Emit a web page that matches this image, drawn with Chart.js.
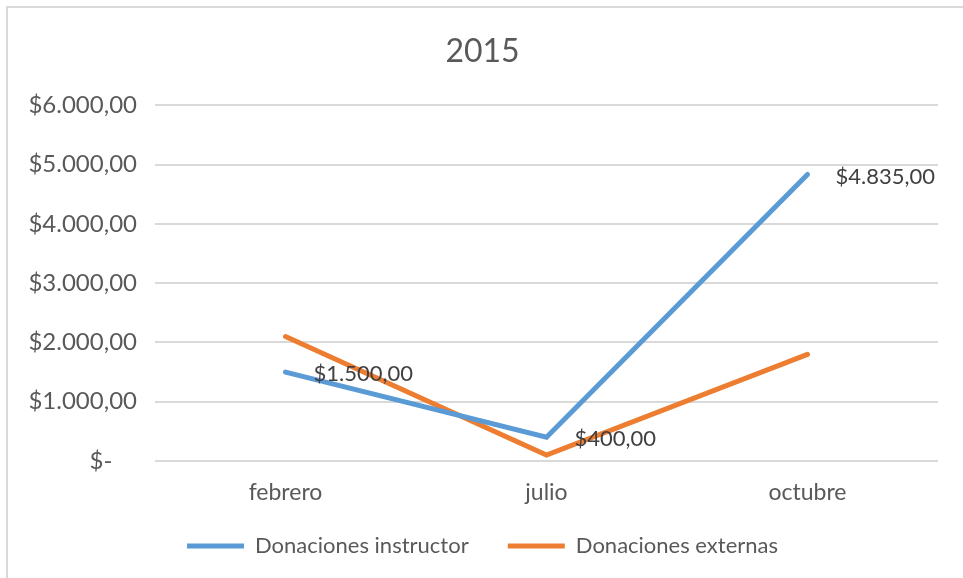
<!DOCTYPE html>
<html>
<head>
<meta charset="utf-8">
<script src="https://cdn.jsdelivr.net/npm/chart.js@4"></script>
<style>
  html, body { margin: 0; padding: 0; background: #fff; }
  #wrap { position: relative; width: 963px; height: 578px; }
  #frame { position: absolute; left: 6px; top: 6px; right: 0; bottom: 0;
           border-top: 2px solid #d9d9d9; border-left: 2px solid #d9d9d9; pointer-events: none; }
</style>
</head>
<body>
<div id="wrap">
  <canvas id="lineChart" width="963" height="578"></canvas>
  <div id="frame"></div>
</div>
<script>
// Chart data
const months = ['febrero', 'julio', 'octubre'];
const instructor = [1500, 400, 4835];
const externas = [2100, 100, 1800];

const FONT = 'Lato, "Open Sans", sans-serif';

// $1.500,00 style, zero shown as "$-"
function money(v) {
    if (v === 0) return '$-    ';
    return '$' + v.toLocaleString('es-ES', { minimumFractionDigits: 2, maximumFractionDigits: 2, useGrouping: 'always' });
}

// Draw value labels for the instructor series, to the right of each point
const valueLabels = {
    id: 'valueLabels',
    afterDatasetsDraw(chart) {
        const ctx = chart.ctx;
        const meta = chart.getDatasetMeta(0);
        ctx.save();
        ctx.font = '22px ' + FONT;
        ctx.fillStyle = '#404040';
        ctx.textAlign = 'left';
        ctx.textBaseline = 'middle';
        meta.data.forEach((pt, i) => {
            ctx.fillText(money(instructor[i]), pt.x + 28, pt.y + 2);
        });
        ctx.restore();
    }
};

const ctx = document.getElementById('lineChart').getContext('2d');
new Chart(ctx, {
    type: 'line',
    data: {
        labels: months,
        datasets: [{
            label: 'Donaciones instructor',
            data: instructor,
            borderColor: '#5B9BD5',
            backgroundColor: '#5B9BD5',
            borderWidth: 5,
            borderCapStyle: 'round',
            pointRadius: 0,
            tension: 0
        }, {
            label: 'Donaciones externas',
            data: externas,
            borderColor: '#ED7D31',
            backgroundColor: '#ED7D31',
            borderWidth: 5,
            borderCapStyle: 'round',
            pointRadius: 0,
            tension: 0
        }]
    },
    options: {
        responsive: false,
        animation: false,
        layout: { padding: { left: 27, right: 25, top: 0, bottom: 11 } },
        plugins: {
            title: {
                display: true,
                text: '2015',
                color: '#595959',
                font: { family: FONT, size: 32, weight: 'normal' },
                padding: { top: 32, bottom: 35 }
            },
            legend: {
                position: 'bottom',
                labels: {
                    color: '#595959',
                    font: { family: FONT, size: 22 },
                    usePointStyle: true,
                    pointStyle: 'line',
                    pointStyleWidth: 57,
                    boxHeight: 22,
                    padding: 11,
                    // extra room between the two entries
                    generateLabels(chart) {
                        const items = Chart.defaults.plugins.legend.labels.generateLabels(chart);
                        items[0].text += '     ';
                        return items;
                    }
                }
            },
            tooltip: { enabled: false }
        },
        scales: {
            x: {
                offset: true,
                grid: { display: false, drawTicks: false },
                border: { display: false },
                ticks: { color: '#595959', font: { family: FONT, size: 23, lineHeight: 1 }, padding: 20 }
            },
            y: {
                min: 0,
                max: 6000,
                afterFit(scale) { scale.width = 128; },
                grid: { color: '#d9d9d9', lineWidth: 2, drawTicks: false },
                border: { display: false },
                ticks: {
                    stepSize: 1000,
                    color: '#595959',
                    font: { family: FONT, size: 24 },
                    padding: 18,
                    callback: (v) => money(v)
                }
            }
        }
    },
    plugins: [valueLabels]
});
</script>
</body>
</html>
